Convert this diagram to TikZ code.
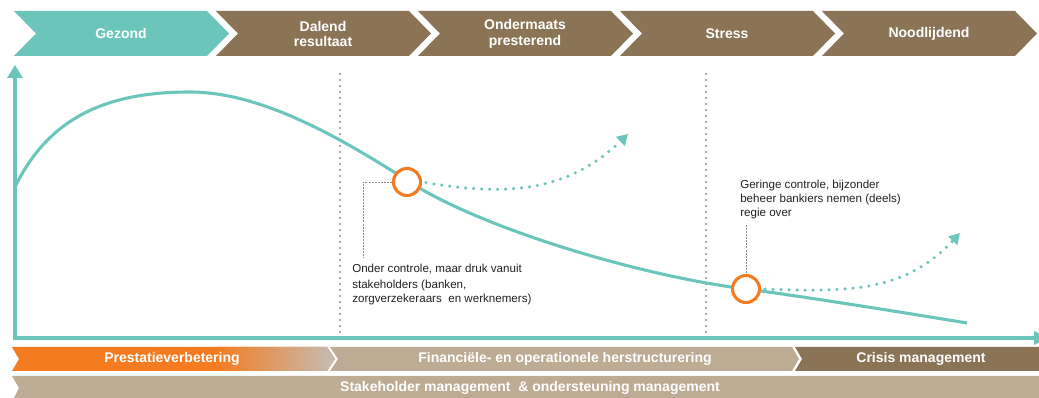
\documentclass[tikz,border=0pt]{standalone}
\usepackage{fontspec}
\setmainfont{Liberation Sans}
\usetikzlibrary{arrows.meta}
\definecolor{tealc}{HTML}{6CC5BA}
\definecolor{brownc}{HTML}{8B7456}
\definecolor{tanc}{HTML}{BEAB93}
\definecolor{orangec}{HTML}{F47B20}
\definecolor{greyend}{HTML}{C4BDB5}
\definecolor{dotgrey}{HTML}{8A8A8A}
\definecolor{textc}{HTML}{222222}
\tikzset{
  toplabel/.style={text=white,font=\fontsize{10.5}{11.5}\selectfont\bfseries,align=center,inner sep=0pt},
  barlabel/.style={text=white,font=\fontsize{10.5}{11}\selectfont\bfseries,inner sep=0pt},
  note/.style={text=textc,font=\fontsize{8.7}{10.5}\selectfont,align=left,inner sep=0pt,anchor=north west},
  axisline/.style={draw=tealc,line width=3pt},
  curveline/.style={draw=tealc,line width=2.3pt},
  greydots/.style={draw=dotgrey,line width=1.6pt,dash pattern=on 0pt off 4.5pt,line cap=round},
  tealdots/.style={draw=tealc,line width=2.6pt,dash pattern=on 0pt off 6pt,line cap=round},
  ring/.style={circle,draw=orangec,line width=2.3pt,fill=white,minimum size=20.25pt,inner sep=0pt},
  leader/.style={draw=dotgrey,line width=0.6pt,dash pattern=on 1.5pt off 0.8pt},
}
\newcommand\chevshape[2]{\fill[#2] (#1,11) -- ++(193,0) -- ++(22,22.5) -- ++(-22,22.5) -- ++(-193,0) -- ++(22,-22.5) -- cycle;}
\begin{document}
\begin{tikzpicture}[x=0.75pt,y=-0.75pt]
\clip (0,0) rectangle (1039,398);
\fill[white] (0,0) rectangle (1039,398);
% top chevrons
\chevshape{14}{tealc}
\chevshape{216}{brownc}
\chevshape{418}{brownc}
\chevshape{620}{brownc}
\chevshape{822}{brownc}
\node[toplabel] (p1) at (121,33.5) {Gezond};
\node[toplabel] (p2) at (323,34) {Dalend\\resultaat};
\node[toplabel] (p3) at (525,34) {Ondermaats\\presterend};
\node[toplabel] (p4) at (727,33.5) {Stress};
\node[toplabel] (p5) at (929,33.5) {Noodlijdend};
% dotted phase separators
\draw[greydots] (340,74) -- (340,336);
\draw[greydots] (706,74) -- (706,336);
% axes
\draw[axisline,{Triangle[width=11.25pt,length=9.75pt]}-{Triangle[width=10pt,length=9.75pt]}] (15,65) -- (15,338) -- (1047,338);
% main curve
\draw[curveline] (15,187) .. controls (50,115) and (110,92) .. (190,92)
  .. controls (260,92) and (338,136) .. (408,181)
  .. controls (480,228) and (640,276) .. (746,289)
  .. controls (800,296) and (900,312) .. (967,323);
% rings
\node[ring] (c1) at (407,182) {};
\node[ring] (c2) at (746,289) {};
% dotted recovery curves
\draw[tealdots,shorten <=3pt,-{Triangle[width=9pt,length=8pt]}] (c1.east) .. controls (500,195) and (565,195) .. (628,134);
\draw[tealdots,shorten <=3pt,-{Triangle[width=9pt,length=8pt]}] (c2.east) .. controls (850,292) and (905,292) .. (960,233);
% annotations
\node[note] (n1) at (352,264) {Onder controle, maar druk vanuit\\[1.5pt]stakeholders (banken,\\zorgverzekeraars\ \ en werknemers)};
\node[note] (n2) at (740,180) {Geringe controle, bijzonder\\beheer bankiers nemen (deels)\\regie over};
\coordinate (k1) at (363,258);
\coordinate (k2) at (746,225);
\draw[leader] (c1.west) -| (k1);
\draw[leader] (k2) -- (c2.north);
% bottom bars
\fill[orangec] (12,347) -- (327,347) -- (335,359) -- (327,371) -- (12,371) -- (19,359) -- cycle;
\begin{scope}
\clip (12,347) -- (327,347) -- (335,359) -- (327,371) -- (12,371) -- (19,359) -- cycle;
\shade[left color=orangec,right color=greyend] (215,346) rectangle (336,372);
\end{scope}
\fill[tanc] (330,347) -- (792,347) -- (799,359) -- (792,371) -- (330,371) -- (338,359) -- cycle;
\fill[brownc] (795,347) -- (1045,347) -- (1045,371) -- (795,371) -- (802,359) -- cycle;
\fill[tanc] (12,376) -- (1045,376) -- (1045,402) -- (12,402) -- (19,388) -- cycle;
\node[barlabel] (b1) at (172,359) {Prestatieverbetering};
\node[barlabel] (b2) at (565,359) {Financiële- en operationele herstructurering};
\node[barlabel] (b3) at (921,359) {Crisis management};
\node[barlabel] (b4) at (530,388) {Stakeholder management\ \ \& ondersteuning management};
\end{tikzpicture}
\end{document}
